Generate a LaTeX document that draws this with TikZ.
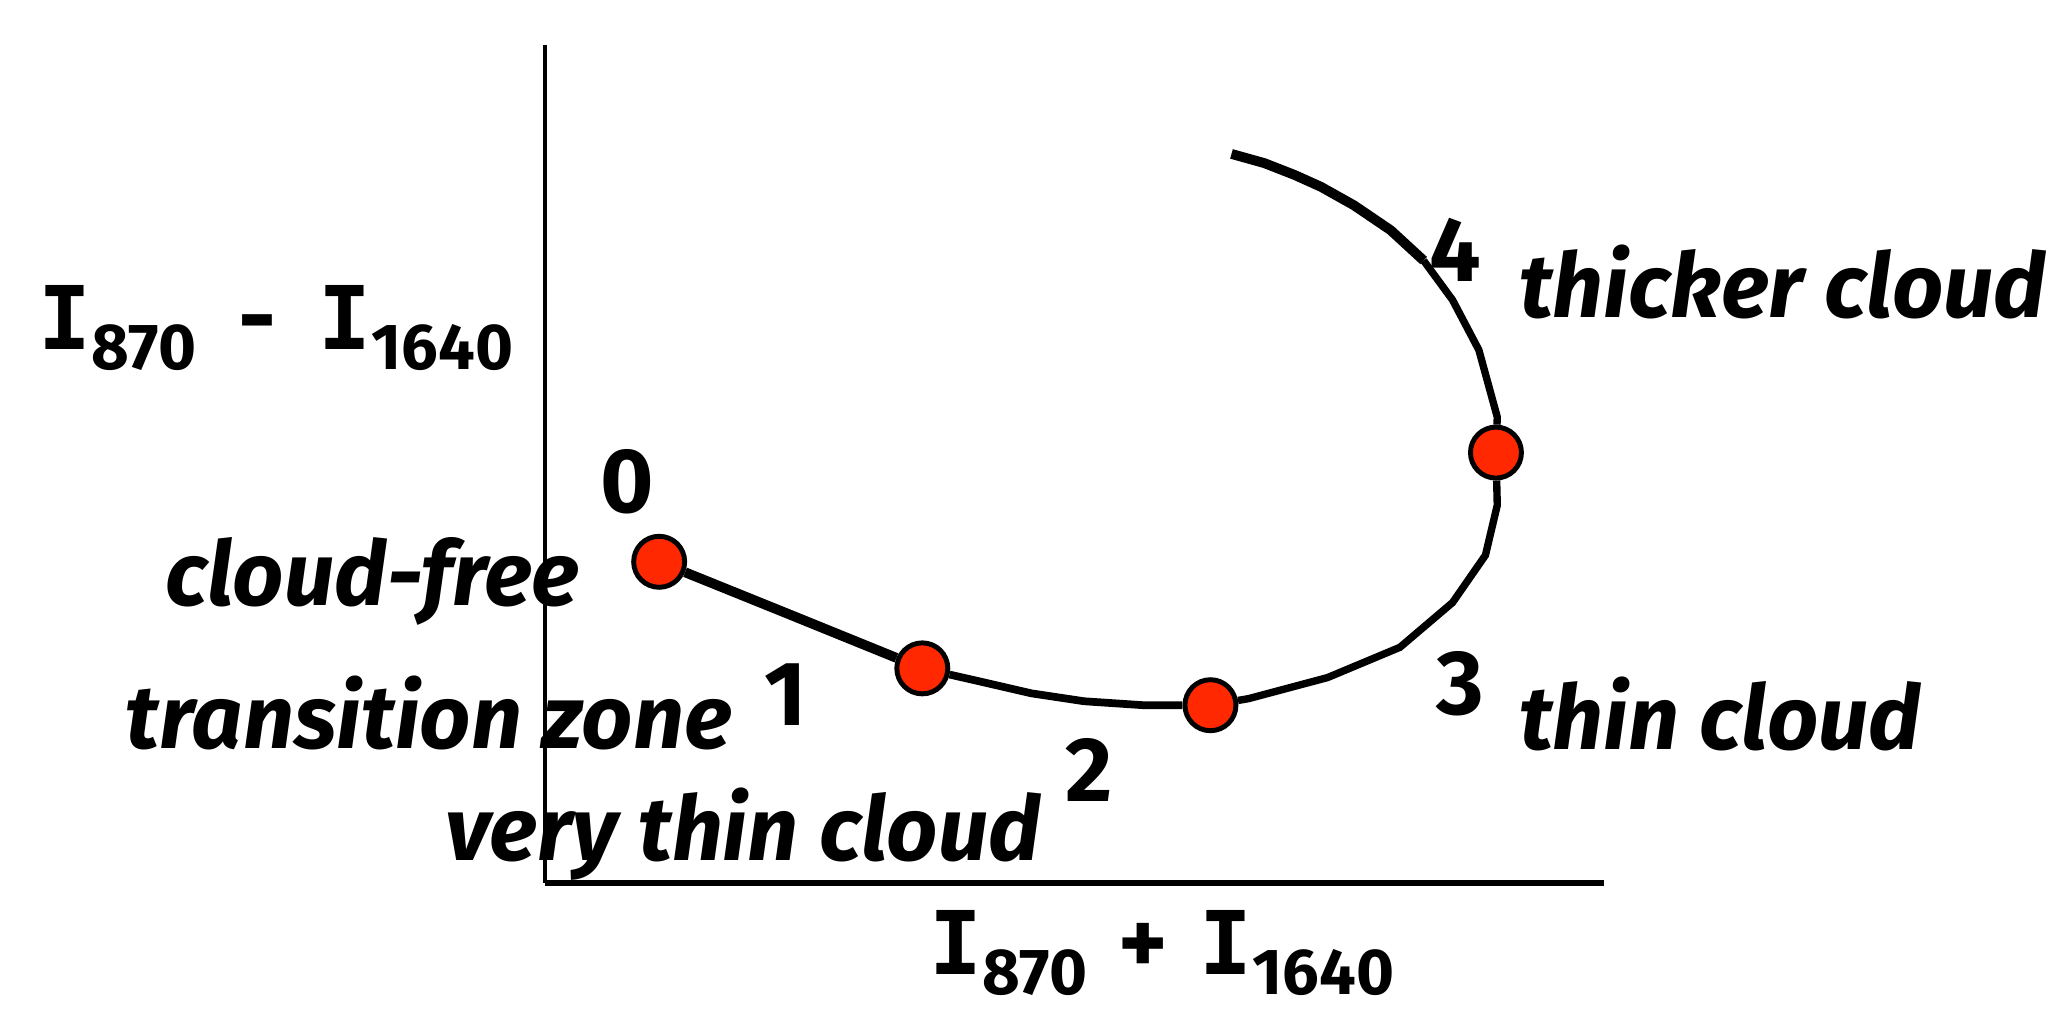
\documentclass[tikz,border=0pt]{standalone}
\usepackage{fontspec}
\setmainfont{Fira Sans}
\newfontfamily\slabfont{DejaVu Sans Mono}
\newcommand{\bigI}{{\slabfont\fontsize{25}{30}\selectfont I}}
\newcommand{\lowsub}[1]{\raisebox{-5.6pt}{\fontsize{18.5}{20}\selectfont #1}}
\begin{document}
\begin{tikzpicture}[x=0.13157mm,y=-0.13157mm,
	dot/.style={circle,draw=black,line width=1.4pt,fill=dotred,minimum size=5.1mm,inner sep=0pt},
	lbl/.style={font=\fontsize{25.5}{29}\selectfont\bfseries\itshape,inner sep=0pt,anchor=base west},
	num/.style={font=\fontsize{26}{30}\selectfont\bfseries,inner sep=0pt},
	axlbl/.style={font=\fontsize{26.5}{30}\selectfont\bfseries,inner sep=0pt,anchor=base west}]
\definecolor{dotred}{RGB}{255,40,0}

	\useasboundingbox (0,0) rectangle (1568,768);

	\coordinate (ytop) at (414,34);
	\coordinate (orig) at (414,671);
	\coordinate (xend) at (1219,671);
	\draw[line width=1.1pt] (ytop) -- (orig);
	\draw[line width=1.8pt] (orig) -- (xend);

	\node[dot] (d0) at (501,427) {};
	\node[dot] (d1) at (701,508) {};
	\node[dot] (d2) at (920,536) {};
	\node[dot] (d3) at (1137,344) {};
	\coordinate (top) at (936,117);

	\draw[line width=2.8pt] (top) -- (961,124) -- (984,133) -- (1004,142) -- (1029,156) -- (1057,175) -- (1082,198);
	\draw[line width=2.1pt] (1082,198) -- (1104,228) -- (1124,266) -- (1138,317) -- (d3);
	\draw[line width=2.1pt] (d3) -- (1138,384) -- (1129,422) -- (1104,458) -- (1064,492) -- (1009,515) -- (949,531) -- (d2);
	\draw[line width=2.2pt] (d2) -- (869,536) -- (824,533) -- (784,527) -- (745,518) -- (d1);
	\draw[line width=2.8pt] (d1) -- (600,467) -- (d0);

	\node[num] (n0) at (477,366) {0};
	\node[num] (n1) at (597,528) {1};
	\node[num] (n2) at (828,585) {2};
	\node[num] (n3) at (1110,520) {3};
	\node[num] (n4) at (1106,190) {4};

	\node[lbl] (free) at (125,460) {cloud-free};
	\node[lbl] (trans) at (95,569) {transition zone};
	\node[lbl] (vthin) at (338,654) {very thin cloud};
	\node[lbl] (thin) at (1154,570) {thin cloud};
	\node[lbl] (thick) at (1154,241) {thicker cloud};

	\node[axlbl] (ylab) at (29,266) {\bigI\lowsub{870}\hspace{12pt}-\hspace{12pt}\bigI\lowsub{1640}};
	\node[axlbl] (xlab) at (706,741) {\bigI\lowsub{870}\hspace{9pt}+\hspace{9pt}\bigI\lowsub{1640}};

\end{tikzpicture}
\end{document}
